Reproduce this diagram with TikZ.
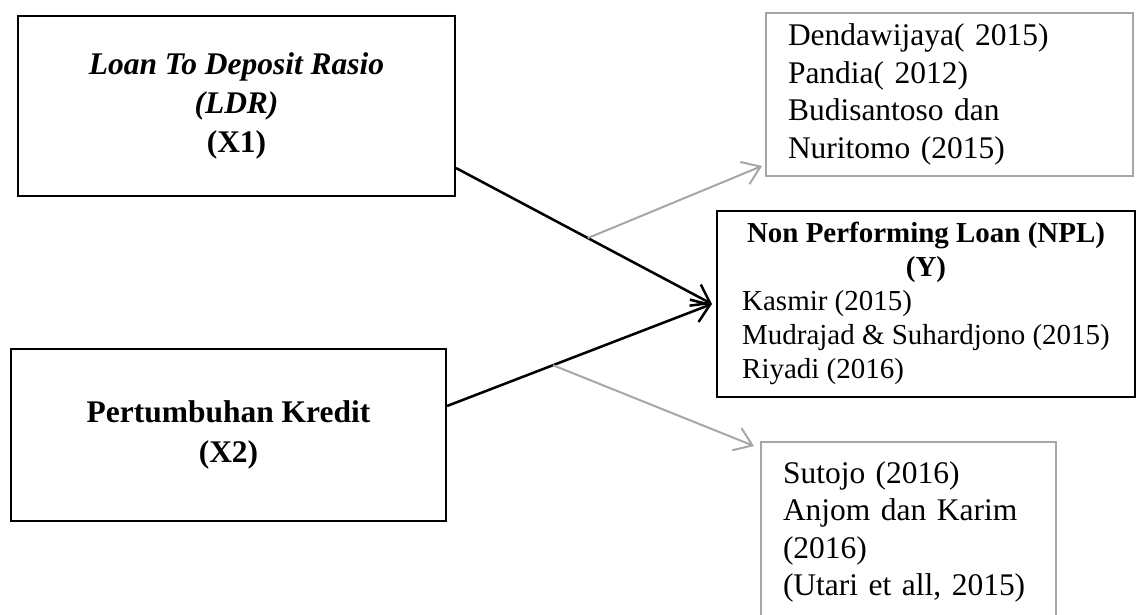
\documentclass[tikz,border=0pt]{standalone}
\usepackage{fontspec}
\setmainfont{Liberation Serif}
\usetikzlibrary{arrows.meta, calc}

\begin{document}
\begin{tikzpicture}[
        varbox/.style    = {draw, line width=1.5pt, align=center,
                            font=\fontsize{22.4}{28}\selectfont\bfseries},
        litbox/.style    = {draw=black!35, line width=1.4pt, align=left, inner xsep=0.55cm,
                            font=\fontsize{22.4}{26.6}\selectfont},
        mainarrow/.style = {-{Straight Barb[length=0.42cm,width=0.6cm]}, line width=1.8pt},
        litarrow/.style  = {mainarrow, line width=1.4pt, draw=black!35}
    ]
            \useasboundingbox (0,0) rectangle (28.4,15.35);
            \clip (0,0) rectangle (28.4,15.35);

            \node[varbox, minimum width=10.925cm, minimum height=4.5cm] (X1) at (5.9125,12.7)
                {\textit{Loan To Deposit Rasio}\\ \textit{(LDR)}\\ (X1)};
            \node[varbox, minimum width=10.875cm, minimum height=4.3cm] (X2) at (5.7125,4.475)
                {Pertumbuhan Kredit\\ (X2)};
            \node[draw, line width=1.5pt, minimum width=10.45cm, minimum height=4.65cm,
                  font=\fontsize{20.6}{24.2}\selectfont] (NPL) at (23.15,7.75)
                {\begin{tabular}{@{}l@{}}
                    \multicolumn{1}{@{}c@{}}{\textbf{Non Performing Loan (NPL)}}\\
                    \multicolumn{1}{@{}c@{}}{\textbf{(Y)}}\\
                    Kasmir (2015)\\
                    Mudrajad \& Suhardjono (2015)\\
                    Riyadi (2016)
                 \end{tabular}};
            \node[litbox, text width=8.075cm, minimum height=4.075cm] (Lit1) at (23.7375,12.9875)
                {Dendawijaya( 2015)\\ Pandia( 2012)\\ Budisantoso dan\\ Nuritomo (2015)};
            \node[litbox, text width=6.275cm, minimum height=4.5cm] (Lit2) at (22.7125,2.05)
                {Sutojo (2016)\\ Anjom dan Karim\\ (2016)\\ (Utari et all, 2015)};

            \coordinate (from1) at ([yshift=0.725cm]X1.south east);
            \coordinate (from2) at ([yshift=0.725cm]X2.east);
            \coordinate (tip)   at ([xshift=-0.1cm]NPL.west);
            \draw[mainarrow] (from1) -- (tip);
            \draw[mainarrow] (from2) -- (tip);
            \draw[litarrow] ($(from1)!0.515!(tip)$) -- ([xshift=-0.075cm,yshift=0.275cm]Lit1.south west);
            \draw[litarrow] ($(from2)!0.4!(tip)$)   -- ([xshift=-0.15cm,yshift=-0.125cm]Lit2.north west);
        \end{tikzpicture}
\end{document}
